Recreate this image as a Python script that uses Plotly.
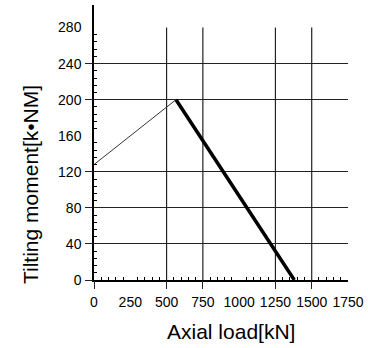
import plotly.graph_objects as go

# --- data ---
axial_load = [0, 565, 1380]          # kN
tilting_moment = [128, 200, 0]       # kN·M

x_tick_vals = [0, 250, 500, 750, 1000, 1250, 1500, 1750]
x_tick_text = ["0", "250", "500", "750", "1000", "1250", "1500", "1750"]
y_tick_vals = [0, 40, 80, 120, 160, 200, 240, 280]
y_tick_text = ["0", "40", "80", "120", "160", "200", "240", "280"]

grid_x = [0, 500, 750, 1250, 1500]
grid_y = [0, 40, 80, 120, 200, 240]
grid_top = 280
x_minor_step = 50
y_minor_step = 8

FONT = "Liberation Sans, Arial, sans-serif"

x_minor = [v for v in range(x_minor_step, 1750, x_minor_step) if v % 250 != 0]
y_minor = [v for v in range(y_minor_step, grid_top, y_minor_step) if v % 40 != 0]

fig = go.Figure()

# thin rising segment
fig.add_trace(go.Scatter(
    x=axial_load[:2], y=tilting_moment[:2], mode="lines",
    line=dict(color="#333333", width=1), showlegend=False, hoverinfo="skip"))
# thick falling segment
fig.add_trace(go.Scatter(
    x=axial_load[1:], y=tilting_moment[1:], mode="lines",
    line=dict(color="#000000", width=3.5), showlegend=False, hoverinfo="skip"))

# helper invisible trace on secondary axes so they are drawn
fig.add_trace(go.Scatter(x=[None], y=[None], xaxis="x2", yaxis="y2",
                         showlegend=False, hoverinfo="skip"))

# vertical grid lines (stop at grid_top)
for gx in grid_x[1:]:
    fig.add_shape(type="line", xref="x", yref="y", x0=gx, x1=gx, y0=0, y1=grid_top,
                  line=dict(color="#222222", width=1.2), layer="below")

tick_font = dict(family=FONT, size=14, color="#000000")

fig.update_layout(
    width=368, height=348,
    margin=dict(l=94, r=20, t=5, b=68, autoexpand=False),
    paper_bgcolor="white", plot_bgcolor="white",
    xaxis=dict(
        range=[0, 1750], tickmode="array", tickvals=x_tick_vals, ticktext=x_tick_text,
        ticks="outside", ticklen=8, tickcolor="rgba(0,0,0,0)", tickangle=0,
        automargin=False,
        showgrid=False, zeroline=False, showline=True, linecolor="#000000", linewidth=1.5,
        tickfont=tick_font,
        minor=dict(tickmode="array", tickvals=x_minor, ticks="inside", ticklen=3,
                   tickcolor="#000000", tickwidth=1, showgrid=False),
    ),
    xaxis2=dict(
        range=[0, 1750], overlaying="x", anchor="y", side="bottom",
        tickmode="array", tickvals=grid_x, showticklabels=False, automargin=False,
        ticks="outside", ticklen=8, tickcolor="#222222", tickwidth=1.2,
        showgrid=False, zeroline=False, showline=False,
    ),
    yaxis=dict(
        range=[0, 305], tickmode="array", tickvals=y_tick_vals, ticktext=y_tick_text,
        ticks="outside", ticklen=8, tickcolor="rgba(0,0,0,0)", automargin=False,
        showgrid=False, zeroline=False, showline=True, linecolor="#000000", linewidth=1.5,
        tickfont=tick_font,
        minor=dict(tickmode="array", tickvals=y_minor, ticks="inside", ticklen=3,
                   tickcolor="#000000", tickwidth=1, showgrid=False),
    ),
    yaxis2=dict(
        range=[0, 305], overlaying="y", anchor="x", side="left",
        tickmode="array", tickvals=grid_y, showticklabels=False, automargin=False,
        ticks="outside", ticklen=8, tickcolor="#222222", tickwidth=1.2,
        showgrid=True, gridcolor="#222222", gridwidth=1.2,
        zeroline=False, showline=False,
    ),
    annotations=[
        dict(text="Axial load[kN]", xref="paper", yref="paper", x=0.539, y=-0.189,
             showarrow=False, font=dict(family=FONT, size=21, color="#000000"),
             xanchor="center", yanchor="middle"),
        dict(text="Tilting moment[k•NM]", xref="paper", yref="paper", x=-0.252, y=0.349,
             showarrow=False, textangle=-90, font=dict(family=FONT, size=21, color="#000000"),
             xanchor="center", yanchor="middle"),
    ],
)

fig.write_html("out.html", config={"displayModeBar": False},
               post_script="document.body.style.margin='0';")
